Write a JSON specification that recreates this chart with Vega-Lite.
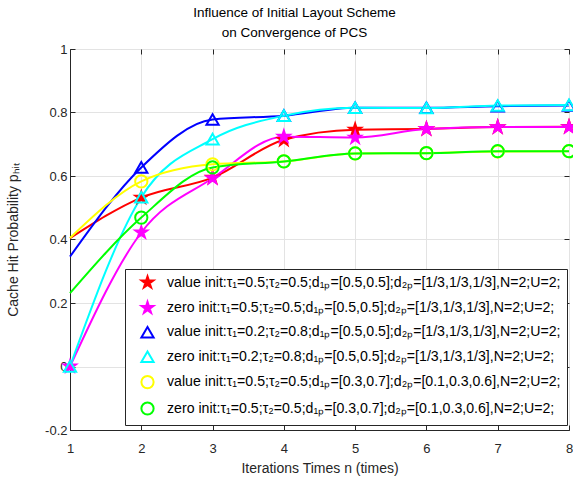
{
  "$schema": "https://vega.github.io/schema/vega-lite/v6.json",
  "width": 499,
  "height": 381,
  "autosize": "none",
  "padding": {"left": 70, "top": 49, "right": 4, "bottom": 51},
  "background": "white",
  "title": {
    "text": ["Influence of Initial Layout Scheme", "on  Convergence of PCS"],
    "font": "Liberation Sans",
    "fontSize": 13.5,
    "fontWeight": "normal",
    "color": "black",
    "anchor": "middle",
    "dx": -25,
    "lineHeight": 20,
    "offset": 4
  },
  "config": {
    "view": {"stroke": "#262626", "strokeWidth": 1},
    "axis": {
      "labelFont": "Liberation Sans",
      "labelFontSize": 13,
      "labelColor": "#262626",
      "labelFlush": false,
      "titleFont": "Liberation Sans",
      "titleFontSize": 14,
      "titleFontWeight": "normal",
      "titleColor": "#262626",
      "gridColor": "#e3e3e3",
      "gridWidth": 1,
      "tickColor": "#262626",
      "tickSize": -5,
      "domainColor": "#262626"
    },
    "legend": {
      "orient": "none",
      "legendX": 55,
      "legendY": 220,
      "strokeColor": "#262626",
      "fillColor": "white",
      "padding": 6,
      "labelFont": "Liberation Sans",
      "labelFontSize": 14.15,
      "labelColor": "black",
      "labelLimit": 700,
      "labelOffset": 12,
      "symbolStrokeWidth": 2,
      "rowPadding": 5.4,
      "symbolOffset": 9
    }
  },
  "datasets": {
    "points": [
      {"k": 1, "n": 1, "p": 0.404}, {"k": 1, "n": 2, "p": 0.532}, {"k": 1, "n": 3, "p": 0.595}, {"k": 1, "n": 4, "p": 0.714},
      {"k": 1, "n": 5, "p": 0.746}, {"k": 1, "n": 6, "p": 0.748}, {"k": 1, "n": 7, "p": 0.754}, {"k": 1, "n": 8, "p": 0.755},
      {"k": 2, "n": 1, "p": 0}, {"k": 2, "n": 2, "p": 0.422}, {"k": 2, "n": 3, "p": 0.593}, {"k": 2, "n": 4, "p": 0.724},
      {"k": 2, "n": 5, "p": 0.721}, {"k": 2, "n": 6, "p": 0.748}, {"k": 2, "n": 7, "p": 0.754}, {"k": 2, "n": 8, "p": 0.754},
      {"k": 3, "n": 1, "p": 0.346}, {"k": 3, "n": 2, "p": 0.627}, {"k": 3, "n": 3, "p": 0.778}, {"k": 3, "n": 4, "p": 0.79},
      {"k": 3, "n": 5, "p": 0.815}, {"k": 3, "n": 6, "p": 0.815}, {"k": 3, "n": 7, "p": 0.82}, {"k": 3, "n": 8, "p": 0.822},
      {"k": 4, "n": 1, "p": 0}, {"k": 4, "n": 2, "p": 0.533}, {"k": 4, "n": 3, "p": 0.716}, {"k": 4, "n": 4, "p": 0.79},
      {"k": 4, "n": 5, "p": 0.815}, {"k": 4, "n": 6, "p": 0.814}, {"k": 4, "n": 7, "p": 0.822}, {"k": 4, "n": 8, "p": 0.824},
      {"k": 5, "n": 1, "p": 0.405}, {"k": 5, "n": 2, "p": 0.583}, {"k": 5, "n": 3, "p": 0.637}, {"k": 5, "n": 4, "p": 0.646},
      {"k": 5, "n": 5, "p": 0.671}, {"k": 5, "n": 6, "p": 0.672}, {"k": 5, "n": 7, "p": 0.677}, {"k": 5, "n": 8, "p": 0.678},
      {"k": 6, "n": 1, "p": 0.231}, {"k": 6, "n": 2, "p": 0.469}, {"k": 6, "n": 3, "p": 0.627}, {"k": 6, "n": 4, "p": 0.646},
      {"k": 6, "n": 5, "p": 0.671}, {"k": 6, "n": 6, "p": 0.672}, {"k": 6, "n": 7, "p": 0.678}, {"k": 6, "n": 8, "p": 0.678}
    ],
    "labels": [
      {"k": 1, "series": "value init:τ₁=0.5;τ₂=0.5;d₁ₚ=[0.5,0.5];d₂ₚ=[1/3,1/3,1/3],N=2;U=2;"},
      {"k": 2, "series": "zero init:τ₁=0.5;τ₂=0.5;d₁ₚ=[0.5,0.5];d₂ₚ=[1/3,1/3,1/3],N=2;U=2;"},
      {"k": 3, "series": "value init:τ₁=0.2;τ₂=0.8;d₁ₚ=[0.5,0.5];d₂ₚ=[1/3,1/3,1/3],N=2;U=2;"},
      {"k": 4, "series": "zero init:τ₁=0.2;τ₂=0.8;d₁ₚ=[0.5,0.5];d₂ₚ=[1/3,1/3,1/3],N=2;U=2;"},
      {"k": 5, "series": "value init:τ₁=0.5;τ₂=0.5;d₁ₚ=[0.3,0.7];d₂ₚ=[0.1,0.3,0.6],N=2;U=2;"},
      {"k": 6, "series": "zero init:τ₁=0.5;τ₂=0.5;d₁ₚ=[0.3,0.7];d₂ₚ=[0.1,0.3,0.6],N=2;U=2;"}
    ]
  },
  "data": {"name": "points"},
  "transform": [
    {"lookup": "k", "from": {"data": {"name": "labels"}, "key": "k", "fields": ["series"]}}
  ],
  "layer": [
    {
      "mark": {"type": "line", "interpolate": "monotone", "strokeWidth": 2},
      "encoding": {
        "x": {
          "field": "n", "type": "quantitative",
          "scale": {"domain": [1, 8], "nice": false, "zero": false},
          "axis": {"orient": "bottom", "title": "Iterations Times n (times)", "values": [1, 2, 3, 4, 5, 6, 7, 8], "format": "d", "labelPadding": 17, "titlePadding": 6}
        },
        "y": {
          "field": "p", "type": "quantitative",
          "scale": {"domain": [-0.2, 1], "nice": false, "zero": false},
          "axis": {"orient": "left", "title": "Cache Hit Probability pₕᵢₜ", "values": [-0.2, 0, 0.2, 0.4, 0.6, 0.8, 1], "format": ".1~f", "labelExpr": "replace(datum.label, '−', '-')", "labelPadding": 8, "titlePadding": 24}
        },
        "color": {
          "field": "series", "type": "nominal",
          "sort": {"field": "k", "op": "min"},
          "scale": {"range": ["#ff0000", "#ff00ff", "#0000ff", "#00ffff", "#ffff00", "#00ff00"]},
          "legend": null
        }
      }
    },
    {
      "transform": [{"filter": "datum.n > 1 || datum.p == 0"}],
      "mark": {"type": "point", "strokeWidth": 2, "opacity": 1},
      "encoding": {
        "x": {"field": "n", "type": "quantitative", "axis": null},
        "y": {"field": "p", "type": "quantitative", "axis": null},
        "stroke": {
          "field": "series", "type": "nominal",
          "sort": {"field": "k", "op": "min"},
          "scale": {"range": ["#ff0000", "#ff00ff", "#0000ff", "#00ffff", "#ffff00", "#00ff00"]},
          "legend": {"title": null}
        },
        "fill": {
          "field": "series", "type": "nominal",
          "sort": {"field": "k", "op": "min"},
          "scale": {"range": ["#ff0000", "#ff00ff", "transparent", "transparent", "transparent", "transparent"]},
          "legend": {"title": null}
        },
        "shape": {
          "field": "series", "type": "nominal",
          "sort": {"field": "k", "op": "min"},
          "scale": {"range": [
            "M0,-1L0.2245,-0.309L0.951,-0.309L0.363,0.118L0.588,0.809L0,0.382L-0.588,0.809L-0.363,0.118L-0.951,-0.309L-0.2245,-0.309Z",
            "M0,-1L0.2245,-0.309L0.951,-0.309L0.363,0.118L0.588,0.809L0,0.382L-0.588,0.809L-0.363,0.118L-0.951,-0.309L-0.2245,-0.309Z",
            "triangle-up", "triangle-up", "circle", "circle"]},
          "legend": {"title": null}
        },
        "size": {
          "field": "series", "type": "nominal",
          "sort": {"field": "k", "op": "min"},
          "scale": {"range": [150, 150, 85, 85, 70, 70]},
          "legend": {"title": null}
        }
      }
    },
    {
      "mark": {"type": "point", "opacity": 0},
      "encoding": {
        "x": {"field": "n", "type": "quantitative", "axis": {"orient": "top", "labels": false, "grid": false, "domain": false, "title": null, "values": [1, 2, 3, 4, 5, 6, 7, 8]}},
        "y": {"field": "p", "type": "quantitative", "axis": {"orient": "right", "labels": false, "grid": false, "domain": false, "title": null, "values": [-0.2, 0, 0.2, 0.4, 0.6, 0.8, 1]}}
      }
    }
  ]
}
